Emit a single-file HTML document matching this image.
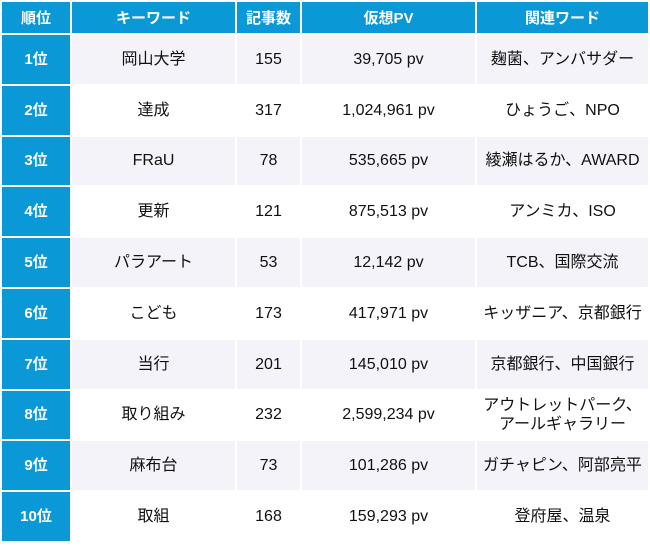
<!DOCTYPE html>
<html><head><meta charset="utf-8"><style>
html,body{margin:0;padding:0;background:#fff;width:650px;height:546px;overflow:hidden}
table{border-collapse:separate;border-spacing:2px;width:650px;table-layout:fixed;font-family:"Liberation Sans","Noto Sans CJK JP",sans-serif;position:absolute;left:0;top:0}
th{background:#0a98d6;color:#fff;font-weight:bold;font-size:15px;height:31px;padding:0;text-align:center}
td{height:48.8px;padding:0;text-align:center;font-size:16px;color:#111;line-height:19px}
td.r{background:#0a98d6;color:#fff;font-weight:bold;font-size:15px}
tr.odd td{background:#f3f3f9}
tr.odd td.r{background:#0a98d6}
</style></head><body>
<table>
<colgroup><col style="width:68px"><col style="width:163px"><col style="width:63px"><col style="width:173px"><col style="width:171px"></colgroup>
<thead><tr>
<th>順位</th>
<th>キーワード</th>
<th>記事数</th>
<th>仮想PV</th>
<th>関連ワード</th>
</tr></thead>
<tbody>
<tr class="odd"><td class="r">1位</td><td>岡山大学</td><td>155</td><td>39,705 pv</td><td>麹菌、アンバサダー</td></tr>
<tr><td class="r">2位</td><td>達成</td><td>317</td><td>1,024,961 pv</td><td>ひょうご、NPO</td></tr>
<tr class="odd"><td class="r">3位</td><td>FRaU</td><td>78</td><td>535,665 pv</td><td>綾瀬はるか、AWARD</td></tr>
<tr><td class="r">4位</td><td>更新</td><td>121</td><td>875,513 pv</td><td>アンミカ、ISO</td></tr>
<tr class="odd"><td class="r">5位</td><td>パラアート</td><td>53</td><td>12,142 pv</td><td>TCB、国際交流</td></tr>
<tr><td class="r">6位</td><td>こども</td><td>173</td><td>417,971 pv</td><td>キッザニア、京都銀行</td></tr>
<tr class="odd"><td class="r">7位</td><td>当行</td><td>201</td><td>145,010 pv</td><td>京都銀行、中国銀行</td></tr>
<tr><td class="r">8位</td><td>取り組み</td><td>232</td><td>2,599,234 pv</td><td>アウトレットパーク、<br>アールギャラリー</td></tr>
<tr class="odd"><td class="r">9位</td><td>麻布台</td><td>73</td><td>101,286 pv</td><td>ガチャピン、阿部亮平</td></tr>
<tr><td class="r">10位</td><td>取組</td><td>168</td><td>159,293 pv</td><td>登府屋、温泉</td></tr>
</tbody></table>
</body></html>
